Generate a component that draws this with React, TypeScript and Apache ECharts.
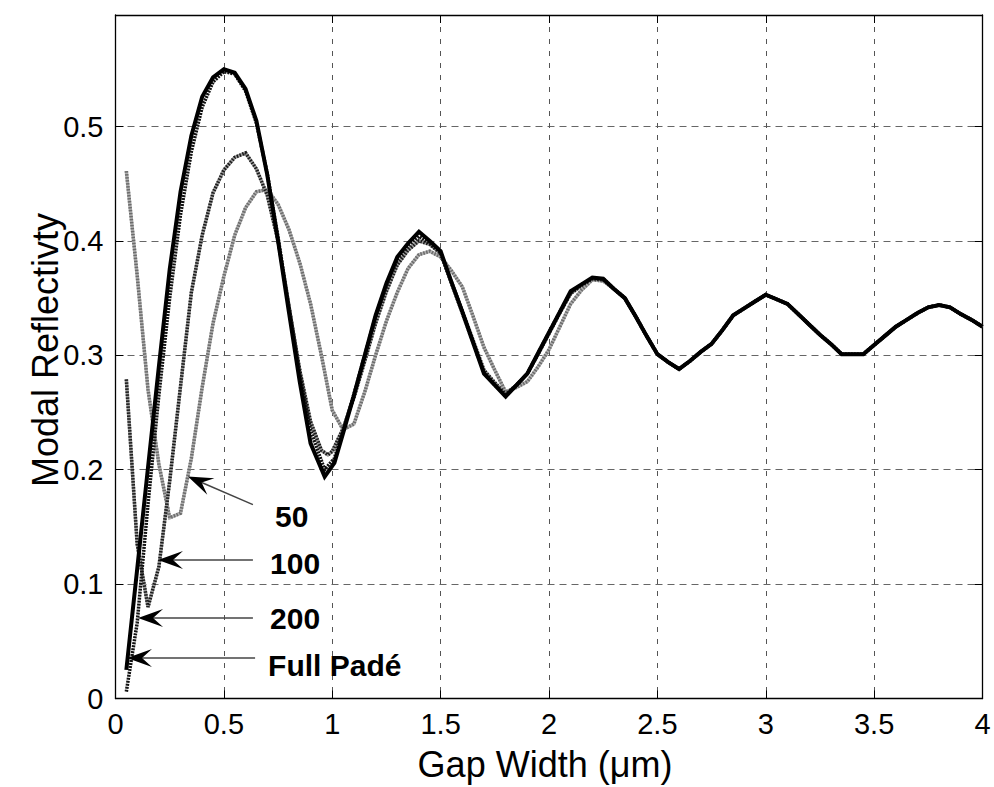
import React, { useEffect, useRef } from 'react';
import * as echarts from 'echarts';

const FONT = '"Liberation Sans", Arial, Helvetica, sans-serif';

const xTicks = [0, 0.5, 1, 1.5, 2, 2.5, 3, 3.5, 4];
const yTicks = [0, 0.1, 0.2, 0.3, 0.4, 0.5];
const X_MAX = 4;
const Y_MAX = 0.5975;

// Common tail (all curves coincide beyond ~2.3 um)
const tailShared: [number, number][] = [
  [2.3, 0.358], [2.35, 0.35], [2.4, 0.334], [2.45, 0.317], [2.5, 0.301], [2.55, 0.294], [2.6, 0.288],
  [2.65, 0.295], [2.7, 0.303], [2.75, 0.31], [2.8, 0.322], [2.85, 0.335], [2.9, 0.341], [2.95, 0.347],
  [3.0, 0.353], [3.05, 0.349], [3.1, 0.345], [3.15, 0.336], [3.2, 0.327], [3.25, 0.318], [3.3, 0.31],
  [3.35, 0.301], [3.4, 0.301], [3.45, 0.301], [3.5, 0.309], [3.55, 0.317], [3.6, 0.325], [3.65, 0.331],
  [3.7, 0.337], [3.75, 0.342], [3.8, 0.344], [3.85, 0.342], [3.9, 0.336], [3.95, 0.331], [4.0, 0.325],
];

const fullPadeHead: [number, number][] = [
  [0.05, 0.025], [0.1, 0.113], [0.15, 0.202], [0.2, 0.29], [0.25, 0.375], [0.3, 0.443], [0.35, 0.492],
  [0.4, 0.526], [0.45, 0.543], [0.5, 0.55], [0.55, 0.547], [0.6, 0.533], [0.65, 0.505], [0.7, 0.458],
  [0.75, 0.4], [0.8, 0.338], [0.85, 0.277], [0.9, 0.223], [0.965, 0.194], [1.01, 0.206], [1.05, 0.232],
  [1.1, 0.265], [1.15, 0.3], [1.2, 0.335], [1.25, 0.363], [1.3, 0.386], [1.35, 0.398], [1.4, 0.408],
  [1.45, 0.4], [1.5, 0.391], [1.55, 0.364], [1.6, 0.338], [1.65, 0.311], [1.7, 0.284], [1.75, 0.274],
  [1.8, 0.264], [1.85, 0.274], [1.9, 0.284], [1.95, 0.302], [2.0, 0.32], [2.05, 0.338], [2.1, 0.356],
  [2.15, 0.362], [2.2, 0.368], [2.25, 0.367],
];

const n200Head: [number, number][] = [
  [0.05, 0.006], [0.1, 0.066], [0.15, 0.17], [0.2, 0.265], [0.25, 0.35], [0.3, 0.423], [0.35, 0.478],
  [0.4, 0.517], [0.45, 0.539], [0.5, 0.548], [0.55, 0.546], [0.6, 0.531], [0.65, 0.503], [0.7, 0.459],
  [0.75, 0.403], [0.8, 0.343], [0.85, 0.284], [0.9, 0.234], [0.965, 0.2], [1.01, 0.21], [1.05, 0.234],
  [1.1, 0.266], [1.15, 0.3], [1.2, 0.334], [1.25, 0.362], [1.3, 0.384], [1.35, 0.396], [1.4, 0.404],
  [1.45, 0.398], [1.5, 0.39], [1.55, 0.363], [1.6, 0.337], [1.65, 0.311], [1.7, 0.285], [1.75, 0.274],
  [1.8, 0.265], [1.85, 0.274], [1.9, 0.284], [1.95, 0.302], [2.0, 0.32], [2.05, 0.338], [2.1, 0.355],
  [2.15, 0.362], [2.2, 0.367], [2.25, 0.367],
];

const n100Head: [number, number][] = [
  [0.05, 0.279], [0.1, 0.135], [0.15, 0.08], [0.2, 0.115], [0.25, 0.19], [0.3, 0.273], [0.35, 0.355],
  [0.4, 0.405], [0.45, 0.442], [0.5, 0.462], [0.55, 0.473], [0.6, 0.477], [0.65, 0.463], [0.7, 0.44],
  [0.75, 0.4], [0.8, 0.343], [0.85, 0.287], [0.9, 0.242], [0.95, 0.217], [0.98, 0.213], [1.0, 0.216],
  [1.05, 0.236], [1.1, 0.263], [1.15, 0.295], [1.2, 0.328], [1.25, 0.356], [1.3, 0.379], [1.35, 0.392],
  [1.4, 0.4], [1.45, 0.397], [1.5, 0.389], [1.55, 0.364], [1.6, 0.339], [1.65, 0.313], [1.7, 0.287],
  [1.75, 0.276], [1.8, 0.266], [1.85, 0.274], [1.9, 0.284], [1.95, 0.301], [2.0, 0.319], [2.05, 0.337],
  [2.1, 0.354], [2.15, 0.361], [2.2, 0.367], [2.25, 0.366],
];

const n50Head: [number, number][] = [
  [0.05, 0.461], [0.1, 0.37], [0.15, 0.27], [0.2, 0.205], [0.25, 0.158], [0.3, 0.162], [0.35, 0.21],
  [0.4, 0.272], [0.45, 0.328], [0.5, 0.369], [0.55, 0.405], [0.6, 0.429], [0.65, 0.443], [0.7, 0.445],
  [0.75, 0.432], [0.8, 0.41], [0.85, 0.381], [0.9, 0.345], [0.95, 0.3], [1.0, 0.252], [1.05, 0.235],
  [1.1, 0.24], [1.15, 0.268], [1.2, 0.3], [1.25, 0.33], [1.3, 0.355], [1.35, 0.376], [1.4, 0.388],
  [1.45, 0.391], [1.5, 0.386], [1.55, 0.374], [1.6, 0.36], [1.65, 0.334], [1.7, 0.307], [1.75, 0.287],
  [1.8, 0.268], [1.85, 0.272], [1.9, 0.277], [1.95, 0.29], [2.0, 0.305], [2.05, 0.325], [2.1, 0.345],
  [2.15, 0.357], [2.2, 0.366], [2.25, 0.365],
];

const fullPade = [...fullPadeHead, ...tailShared];
const n200 = [...n200Head, ...tailShared];
const n100 = [...n100Head, ...tailShared];
const n50 = [...n50Head, ...tailShared];

const annotations = [
  { text: '50', tip: [0.334, 0.194], tail: [0.634, 0.1695], label: [0.736, 0.159] },
  { text: '100', tip: [0.196, 0.121], tail: [0.634, 0.121], label: [0.713, 0.118] },
  { text: '200', tip: [0.104, 0.0704], tail: [0.634, 0.0704], label: [0.713, 0.07] },
  { text: 'Full Padé', tip: [0.053, 0.0354], tail: [0.644, 0.0354], label: [0.704, 0.029] },
];

const xTitle = 'Gap Width (μm)';
const yTitle = 'Modal Reflectivty';

function lineSeries(name: string, data: [number, number][], color: string, width: number, type: any, z: number) {
  return {
    name,
    type: 'line',
    data,
    showSymbol: false,
    symbol: 'none',
    z,
    lineStyle: { color, width, type, cap: 'butt', join: 'miter' },
    emphasis: { disabled: true },
  };
}

export default function App() {
  const ref = useRef<HTMLDivElement>(null);
  useEffect(() => {
    document.body.style.margin = '0';
    if (!ref.current) return;
    const chart = echarts.init(ref.current, undefined, { renderer: 'svg' });
    const axisLineStyle = { color: '#000', width: 1.3 };
    const yFmt = (v: number) => {
      const r = Math.round(v * 10);
      if (Math.abs(v * 10 - r) > 1e-6 || !yTicks.some((t) => Math.abs(t - v) < 1e-9)) return '';
      return String(r / 10);
    };
    const xFmt = (v: number) => (xTicks.some((t) => Math.abs(t - v) < 1e-9) ? String(v) : '');
    chart.setOption({
      animation: false,
      backgroundColor: '#fff',
      grid: { left: 115.5, right: 11.5, top: 15, bottom: 88.5, containLabel: false },
      xAxis: [
        {
          type: 'value', min: 0, max: X_MAX, interval: 0.5,
          axisLine: { show: true, onZero: false, lineStyle: axisLineStyle },
          axisTick: { show: true, inside: true, length: 8, lineStyle: { color: '#000', width: 1 } },
          axisLabel: { color: '#000', fontSize: 29, fontFamily: FONT, margin: 11, formatter: xFmt },
          splitLine: { show: true, lineStyle: { color: '#555', width: 1, type: [5, 7] } },
        },
        {
          type: 'value', position: 'top', min: 0, max: X_MAX, interval: 0.5,
          axisLine: { show: true, onZero: false, lineStyle: axisLineStyle },
          axisTick: { show: true, inside: true, length: 8, lineStyle: { color: '#000', width: 1 } },
          axisLabel: { show: false },
          splitLine: { show: false },
        },
      ],
      yAxis: [
        {
          type: 'value', min: 0, max: Y_MAX, interval: 0.1,
          axisLine: { show: true, onZero: false, lineStyle: axisLineStyle },
          axisTick: { show: true, inside: true, length: 8, lineStyle: { color: '#000', width: 1 } },
          axisLabel: { color: '#000', fontSize: 29, fontFamily: FONT, margin: 12, formatter: yFmt },
          splitLine: { show: true, lineStyle: { color: '#666', width: 1, type: [7, 5] } },
        },
        {
          type: 'value', position: 'right', min: 0, max: Y_MAX, interval: 0.1,
          axisLine: { show: true, onZero: false, lineStyle: axisLineStyle },
          axisTick: { show: true, inside: true, length: 8, lineStyle: { color: '#000', width: 1 } },
          axisLabel: { show: false },
          splitLine: { show: false },
        },
      ],
      series: [
        lineSeries('50', n50, '#b0b0b0', 3.5, 'solid', 2),
        lineSeries('50 ', n50, '#6c6c6c', 3.5, [1.5, 1.5], 3),
        lineSeries('100', n100, '#9a9a9a', 3.5, 'solid', 4),
        lineSeries('100 ', n100, '#1a1a1a', 3.5, [1.5, 1.5], 5),
        lineSeries('200', n200, '#111', 3.5, [2, 1], 6),
        lineSeries('Full Padé', fullPade, '#000', 4, 'solid', 7),
      ],
    });

    const toPx = (p: number[]) => chart.convertToPixel({ seriesIndex: 0 }, p) as number[];
    const graphics: any[] = [];
    annotations.forEach((a) => {
      const tip = toPx(a.tip);
      const tail = toPx(a.tail);
      const lab = toPx(a.label);
      const dx = tip[0] - tail[0];
      const dy = tip[1] - tail[1];
      const len = Math.hypot(dx, dy);
      const ux = dx / len;
      const uy = dy / len;
      const nx = -uy;
      const ny = ux;
      const L = 25;
      const W = 9;
      const N = 15;
      const base = [tip[0] - ux * L, tip[1] - uy * L];
      const notch = [tip[0] - ux * N, tip[1] - uy * N];
      graphics.push({
        type: 'line', silent: true, z: 10,
        shape: { x1: tail[0], y1: tail[1], x2: notch[0], y2: notch[1] },
        style: { stroke: '#444', lineWidth: 1.5 },
      });
      graphics.push({
        type: 'polygon', silent: true, z: 11,
        shape: { points: [tip, [base[0] + nx * W, base[1] + ny * W], notch, [base[0] - nx * W, base[1] - ny * W]] },
        style: { fill: '#000' },
      });
      graphics.push({
        type: 'text', silent: true, z: 11, x: lab[0], y: lab[1],
        style: {
          text: a.text, fill: '#000', fontSize: 30, fontWeight: 'bold', fontFamily: FONT,
          textAlign: 'left', align: 'left', textVerticalAlign: 'middle', verticalAlign: 'middle',
        },
      });
    });
    graphics.push({
      type: 'text', silent: true, x: 545, y: 764,
      style: {
        text: xTitle, fill: '#000', fontSize: 36, fontFamily: FONT,
        textAlign: 'center', align: 'center', textVerticalAlign: 'middle', verticalAlign: 'middle',
      },
    });
    graphics.push({
      type: 'text', silent: true, x: 45, y: 350, rotation: Math.PI / 2,
      style: {
        text: yTitle, fill: '#000', fontSize: 36, fontFamily: FONT,
        textAlign: 'center', align: 'center', textVerticalAlign: 'middle', verticalAlign: 'middle',
      },
    });
    chart.setOption({ graphic: graphics });

    return () => chart.dispose();
  }, []);
  return <div ref={ref} style={{ width: 994, height: 787 }} />;
}
